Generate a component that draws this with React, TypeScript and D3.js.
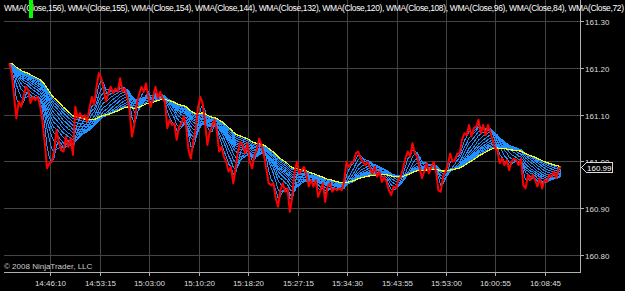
import React from 'react';
import * as d3 from 'd3';

// close prices, one point every ~3.3 bars
const closes: number[] = [
  161.210, 161.189, 161.142, 161.092, 161.128, 161.117, 161.138, 161.160, 161.153, 161.125,
  161.138, 161.131, 161.138, 161.121, 161.089, 161.042, 160.985, 160.996, 160.999, 161.021,
  161.067, 161.042, 161.024, 161.021, 161.053, 161.031, 161.049, 161.014, 161.117, 161.092,
  161.103, 161.092, 161.099, 161.085, 161.114, 161.138, 161.121, 161.160, 161.189, 161.178,
  161.156, 161.128, 161.146, 161.160, 161.146, 161.156, 161.149, 161.178, 161.149, 161.156,
  161.138, 161.110, 161.053, 161.078, 161.121, 161.142,
  161.160, 161.149, 161.167, 161.135, 161.117, 161.138, 161.160, 161.135, 161.149, 161.135,
  161.128, 161.071, 161.089, 161.078, 161.081, 161.046, 161.074, 161.081, 161.096, 161.074,
  161.024, 161.006, 161.042, 161.067, 161.114, 161.138, 161.124, 161.085, 161.035, 161.063,
  161.074, 161.089, 161.067, 161.021, 161.031, 161.010, 160.999, 160.978, 160.988, 160.953,
  160.985, 161.021, 161.042, 161.035, 161.017, 161.039, 160.999, 160.985, 161.014, 161.024,
  161.049, 161.035, 161.014, 160.985, 160.953, 160.949, 160.953, 160.921,
  160.903, 160.938, 160.953, 160.935, 160.942, 160.892, 160.924, 160.978, 160.999, 160.974,
  160.981, 160.988, 160.971, 160.946, 160.960, 160.946, 160.960, 160.924, 160.938, 160.953,
  160.913, 160.946, 160.953, 160.935, 160.942, 160.938, 160.942, 160.938, 160.956, 160.999,
  160.988, 160.996, 160.999, 161.017, 161.021, 161.006, 160.999, 160.992, 160.999, 160.985,
  160.974, 160.988, 160.967, 160.978, 160.956, 160.967, 160.956, 160.938, 160.928, 160.946,
  160.942, 160.960, 160.967, 160.985, 161.006, 161.021, 161.010, 161.039, 161.017, 161.011,
  160.988, 160.964, 160.978, 160.996, 160.974, 160.988, 160.999, 160.978, 160.938, 160.935,
  160.967, 160.978, 160.992, 161.017, 160.999, 161.003, 161.017, 161.017, 161.046, 161.060,
  161.056, 161.078, 161.053, 161.071, 161.074, 161.089, 161.060, 161.078, 161.056, 161.078,
  161.063, 161.046, 161.028, 161.024, 160.996, 161.006, 160.992, 161.003, 160.981, 160.999,
  161.006, 161.003, 160.992, 161.006, 160.949, 160.942, 160.971, 160.960, 160.971, 160.960,
  160.946, 160.964, 160.942, 160.960, 160.956, 160.971, 160.967, 160.978, 160.964, 160.985,
  160.988,
];

const BARS_PER_POINT = 3.3;
const legendPeriods = [156, 155, 154, 144, 132, 120, 108, 96, 84, 72];
const ribbonPeriods = [155, 154, 144, 132, 120, 108, 96, 84, 72, 60, 48, 36, 24, 12];
const slowPeriod = 156;

const timeLabels = ['14:46:10', '14:53:15', '15:03:00', '15:10:20', '15:18:20', '15:27:15',
  '15:34:30', '15:43:55', '15:53:00', '16:00:55', '16:08:45'];
const timeTickPoints = [17.26, 38.47, 59.26, 80.46, 101.24, 122.45, 143.23, 164.44, 185.22, 206.0, 227.2];
const priceTicks = [160.8, 160.9, 161.0, 161.1, 161.2, 161.3];

// weighted moving average; bars before the first one hold the first close
function wma(src: number[], period: number) {
  const len = period / BARS_PER_POINT;
  return src.map((_, i) => {
    let num = 0, den = 0;
    for (let k = 0; k < len; k++) {
      const w = len - k;
      num += w * src[Math.max(0, i - k)];
      den += w;
    }
    return num / den;
  });
}

const W = 625, H = 291;
const plotLeft = 4, plotRight = 580, plotBottom = 272;
const font = '"Liberation Sans", Arial, sans-serif';

export default function App() {
  const x = d3.scaleLinear().domain([0, closes.length - 1]).range([9.3, 561]);
  const y = d3.scaleLinear().domain([160.8, 161.3]).range([254.7, 21.3]);
  const line = d3.line<number>().x((_, i) => x(i)).y(d => y(d));

  const last = closes[closes.length - 1];
  const ly = Math.round(y(last)) + 0.5;
  const legend = legendPeriods.map(p => `WMA(Close,${p})`).join(', ');

  return (
    <svg width={W} height={H} style={{ position: 'absolute', left: 0, top: 0, display: 'block' }}>
      <rect width={W} height={H} fill="#000" />

      {/* grid */}
      {priceTicks.map(t => {
        const yy = Math.round(y(t)) + 0.5;
        return <line key={'h' + t} x1={plotLeft} x2={plotRight + 4} y1={yy} y2={yy} stroke="#444" shapeRendering="crispEdges" />;
      })}
      {timeTickPoints.map((t, i) => {
        const xx = Math.round(x(t)) + 0.5;
        return <line key={'v' + i} x1={xx} x2={xx} y1={0} y2={plotBottom} stroke="#444" shapeRendering="crispEdges" />;
      })}

      {/* ribbon */}
      {ribbonPeriods.map(p => (
        <path key={p} d={line(wma(closes, p)) || ''} fill="none" stroke="#1E90FF" strokeWidth={1} shapeRendering="crispEdges" />
      ))}
      <path d={line(wma(closes, slowPeriod)) || ''} fill="none" stroke="#FFFF00" strokeWidth={1.2} shapeRendering="crispEdges" />
      <path d={line(closes) || ''} fill="none" stroke="#FF0000" strokeWidth={2} strokeLinejoin="round" />

      {/* frame */}
      <line x1={plotLeft} x2={plotRight} y1={plotBottom + 0.5} y2={plotBottom + 0.5} stroke="#b0b0b0" shapeRendering="crispEdges" />
      <line x1={plotRight + 0.5} x2={plotRight + 0.5} y1={0} y2={plotBottom + 1} stroke="#b0b0b0" shapeRendering="crispEdges" />

      {/* x axis */}
      {timeTickPoints.map((t, i) => {
        const xx = Math.round(x(t)) + 0.5;
        return (
          <g key={'xt' + i}>
            <line x1={xx} x2={xx} y1={plotBottom} y2={plotBottom + 4} stroke="#b0b0b0" shapeRendering="crispEdges" />
            <text x={xx} y={286} textAnchor="middle" fontFamily={font} fontSize={8} fill="#ddd">{timeLabels[i]}</text>
          </g>
        );
      })}

      {/* y axis */}
      {priceTicks.map(t => {
        const yy = Math.round(y(t)) + 0.5;
        return (
          <g key={'yt' + t}>
            <line x1={plotRight} x2={plotRight + 4} y1={yy} y2={yy} stroke="#b0b0b0" shapeRendering="crispEdges" />
            <text x={585} y={yy + 3} fontFamily={font} fontSize={8} fill="#ddd">{t.toFixed(2)}</text>
          </g>
        );
      })}

      {/* last price marker */}
      <path
        d={`M${plotRight + 1.5},${ly} L${plotRight + 6.5},${ly - 5} L${plotRight + 32.5},${ly - 5} L${plotRight + 32.5},${ly + 5} L${plotRight + 6.5},${ly + 5} Z`}
        fill="#000" stroke="#ddd" shapeRendering="crispEdges"
      />
      <text x={587} y={ly + 3} fontFamily={font} fontSize={8} fill="#fff">{last.toFixed(2)}</text>

      {/* labels */}
      <text x={4} y={11} fontFamily={font} fontSize={8.5} fill="#fff" textLength={620} lengthAdjust="spacing">{legend}</text>
      <rect x={29} y={0} width={4} height={18} fill="#00FF00" />
      <text x={4} y={269} fontFamily={font} fontSize={8} fill="#ccc">© 2008 NinjaTrader, LLC</text>
    </svg>
  );
}
